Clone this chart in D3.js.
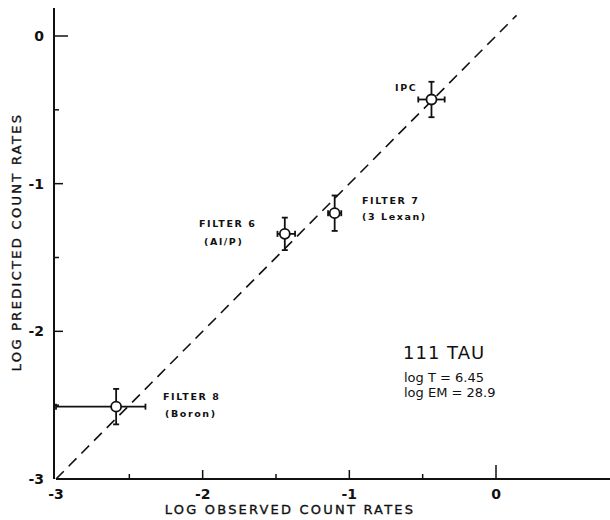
<!DOCTYPE html>
<html><head><meta charset="utf-8">
<script src="https://cdn.jsdelivr.net/npm/d3@7"></script>
<style>body{margin:0;background:#fff}svg{display:block}text{font-family:"DejaVu Sans",sans-serif;fill:#111}</style>
</head><body>
<svg id="c" width="610" height="520"></svg>
<script>
// Data (log observed, log predicted, error bars)
const names = ["IPC", "FILTER 7", "FILTER 6", "FILTER 8"];
const subNames = ["", "(3 Lexan)", "(Al/P)", "(Boron)"];
const obs = [-0.44, -1.10, -1.44, -2.59];
const pred = [-0.43, -1.20, -1.34, -2.51];
const xErrLo = [0.09, 0.045, 0.05, 0.41];
const xErrHi = [0.09, 0.045, 0.07, 0.20];
const yErr = [0.12, 0.12, 0.11, 0.12];
const majorTicks = [-3, -2, -1, 0];
const minorTicks = [-2.5, -1.5, -0.5];
const lineDomain = [-3, 0.14];

const svg = d3.select("#c");
const x = d3.scaleLinear().domain([-3, 0]).range([56, 496]);
const y = d3.scaleLinear().domain([-3, 0]).range([479, 36]);
const ink = "#111";

// axes lines
svg.append("line").attr("x1", x(-3)).attr("x2", 610).attr("y1", y(-3)).attr("y2", y(-3)).attr("stroke", ink).attr("stroke-width", 2);
svg.append("line").attr("x1", x(-3) - 2).attr("x2", x(-3) - 2).attr("y1", y(-3)).attr("y2", 8).attr("stroke", ink).attr("stroke-width", 2);

// x ticks (inward)
majorTicks.forEach(t => {
  if (t === -3) return;
  const len = t === 0 ? 14 : 9;
  svg.append("line").attr("x1", x(t)).attr("x2", x(t)).attr("y1", y(-3)).attr("y2", y(-3) - len).attr("stroke", ink).attr("stroke-width", 1.5);
});
minorTicks.forEach(t => {
  svg.append("line").attr("x1", x(t)).attr("x2", x(t)).attr("y1", y(-3)).attr("y2", y(-3) - 5).attr("stroke", ink).attr("stroke-width", 1.5);
});
// y ticks (inward)
majorTicks.forEach(t => {
  if (t === -3) return;
  const len = t === 0 ? 14 : 9;
  svg.append("line").attr("x1", x(-3) - 2).attr("x2", x(-3) - 2 + len).attr("y1", y(t)).attr("y2", y(t)).attr("stroke", ink).attr("stroke-width", 1.5);
});
minorTicks.forEach(t => {
  svg.append("line").attr("x1", x(-3) - 2).attr("x2", x(-3) + 3).attr("y1", y(t)).attr("y2", y(t)).attr("stroke", ink).attr("stroke-width", 1.5);
});

// tick labels
majorTicks.forEach(t => {
  svg.append("text").attr("x", x(t)).attr("y", 499).attr("text-anchor", "middle")
    .style("font-size", "14px").style("font-weight", "bold").text(t === 0 ? "0" : "-" + Math.abs(t));
  svg.append("text").attr("x", 44).attr("y", y(t) + 5).attr("text-anchor", "end")
    .style("font-size", "14px").style("font-weight", "bold").text(t === 0 ? "0" : "-" + Math.abs(t));
});

// axis titles
svg.append("text").attr("x", 290).attr("y", 514).attr("text-anchor", "middle")
  .style("font-size", "13px").style("letter-spacing", "2.2px").style("stroke", ink).style("stroke-width", "0.35px").text("LOG OBSERVED COUNT RATES");
svg.append("text").attr("transform", "translate(21,242) rotate(-90)").attr("text-anchor", "middle")
  .style("font-size", "13px").style("letter-spacing", "2.3px").style("stroke", ink).style("stroke-width", "0.35px").text("LOG PREDICTED COUNT RATES");

// dashed identity line
svg.append("line").attr("x1", x(lineDomain[0])).attr("y1", y(lineDomain[0]))
  .attr("x2", x(lineDomain[1])).attr("y2", y(lineDomain[1]))
  .attr("stroke", ink).attr("stroke-width", 1.6).attr("stroke-dasharray", "11,7");

// error bars and points
const cap = 3;
names.forEach((n, i) => {
  const cx = x(obs[i]), cy = y(pred[i]);
  const g = svg.append("g").attr("stroke", ink).attr("stroke-width", 1.8);
  const xl = x(obs[i] - xErrLo[i]), xr = x(obs[i] + xErrHi[i]);
  const yt = y(pred[i] + yErr[i]), yb = y(pred[i] - yErr[i]);
  g.append("line").attr("x1", xl).attr("x2", xr).attr("y1", cy).attr("y2", cy);
  g.append("line").attr("x1", xl).attr("x2", xl).attr("y1", cy - cap).attr("y2", cy + cap);
  g.append("line").attr("x1", xr).attr("x2", xr).attr("y1", cy - cap).attr("y2", cy + cap);
  g.append("line").attr("x1", cx).attr("x2", cx).attr("y1", yt).attr("y2", yb);
  g.append("line").attr("x1", cx - cap).attr("x2", cx + cap).attr("y1", yt).attr("y2", yt);
  g.append("line").attr("x1", cx - cap).attr("x2", cx + cap).attr("y1", yb).attr("y2", yb);
  g.append("circle").attr("cx", cx).attr("cy", cy).attr("r", 5).attr("fill", "#fff").attr("stroke-width", 1.8);
});

// point labels
const lab = (t, px, py, size) => svg.append("text").attr("x", px).attr("y", py)
  .style("font-size", size + "px").style("font-weight", "bold").style("letter-spacing", "1.6px").text(t);
lab(names[0], 395, 91, 9.5);
lab(names[1], 362, 204, 9.5);
lab(subNames[1], 362, 220, 9.5);
lab(names[2], 199, 227, 9.5);
lab(subNames[2], 204, 245, 9.5);
lab(names[3], 163, 400, 9.5);
lab(subNames[3], 165, 417, 9.5);

// annotation
svg.append("text").attr("x", 403).attr("y", 359).style("font-size", "18px").style("letter-spacing", "1px").text("111 TAU");
svg.append("text").attr("x", 404).attr("y", 382).style("font-size", "13px").text("log T = 6.45");
svg.append("text").attr("x", 404).attr("y", 397).style("font-size", "13px").text("log EM = 28.9");
</script>
</body></html>
